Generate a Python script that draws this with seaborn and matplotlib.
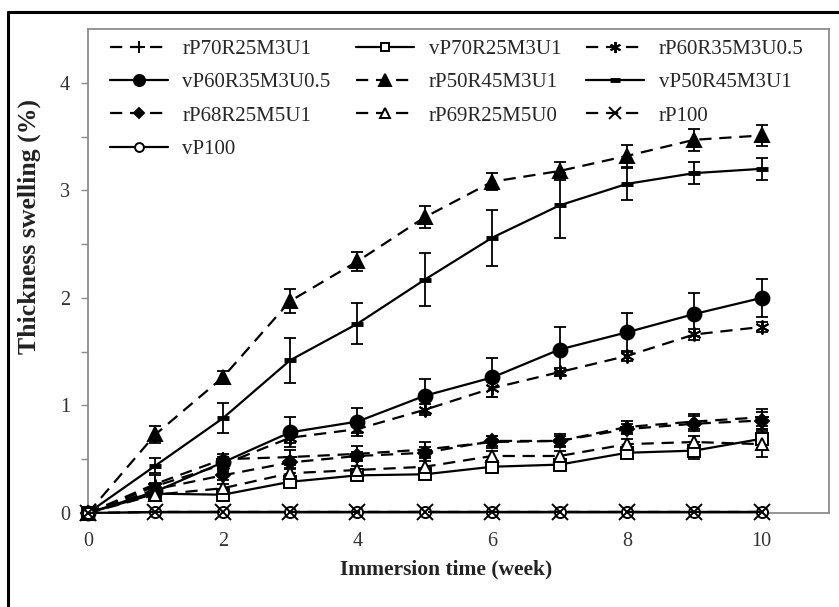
import numpy as np
import pandas as pd
import matplotlib
matplotlib.use('Agg')
import matplotlib.pyplot as plt
import seaborn as sns
from matplotlib.lines import Line2D

# data
weeks = [0, 1, 2, 3, 4, 5, 6, 7, 8, 9, 10]

rP70R25M3U1 = [0, 0.27, 0.50, 0.52, 0.55, 0.59, 0.66, 0.67, 0.80, 0.85, 0.89]
rP70R25M3U1_err = [0, 0.08, 0.05, 0.07, 0.07, 0.07, 0.06, 0.06, 0.06, 0.07, 0.08]

vP70R25M3U1 = [0, 0.18, 0.17, 0.29, 0.35, 0.36, 0.43, 0.45, 0.56, 0.58, 0.69]
vP70R25M3U1_err = [0, 0.03, 0.03, 0.05, 0.03, 0.03, 0.04, 0.04, 0.04, 0.08, 0.09]

rP60R35M3U05 = [0, 0.25, 0.45, 0.70, 0.78, 0.96, 1.16, 1.31, 1.46, 1.66, 1.73]
rP60R35M3U05_err = [0, 0.03, 0.04, 0.05, 0.04, 0.05, 0.08, 0.04, 0.05, 0.05, 0.05]

vP60R35M3U05 = [0, 0.20, 0.47, 0.75, 0.85, 1.09, 1.26, 1.52, 1.68, 1.85, 2.00]
vP60R35M3U05_err = [0, 0.04, 0.05, 0.14, 0.13, 0.16, 0.18, 0.21, 0.18, 0.20, 0.18]

rP50R45M3U1 = [0, 0.73, 1.26, 1.97, 2.34, 2.75, 3.08, 3.18, 3.32, 3.47, 3.51]
rP50R45M3U1_err = [0, 0.08, 0.06, 0.11, 0.09, 0.10, 0.08, 0.08, 0.10, 0.10, 0.10]

vP50R45M3U1 = [0, 0.44, 0.88, 1.42, 1.76, 2.17, 2.56, 2.86, 3.06, 3.16, 3.20]
vP50R45M3U1_err = [0, 0.07, 0.14, 0.21, 0.19, 0.25, 0.26, 0.30, 0.15, 0.10, 0.10]

rP68R25M5U1 = [0, 0.22, 0.35, 0.47, 0.53, 0.56, 0.67, 0.67, 0.78, 0.83, 0.86]
rP68R25M5U1_err = [0, 0.03, 0.04, 0.05, 0.04, 0.05, 0.05, 0.05, 0.05, 0.07, 0.08]

rP69R25M5U0 = [0, 0.17, 0.23, 0.37, 0.40, 0.43, 0.53, 0.53, 0.64, 0.66, 0.64]
rP69R25M5U0_err = [0, 0.03, 0.04, 0.04, 0.04, 0.05, 0.05, 0.05, 0.05, 0.06, 0.12]

rP100 = [0, 0.01, 0.01, 0.01, 0.01, 0.01, 0.01, 0.01, 0.01, 0.01, 0.01]
vP100 = [0, 0.01, 0.01, 0.01, 0.01, 0.01, 0.01, 0.01, 0.01, 0.01, 0.01]
zero_err = [0] * 11

DASH = (0, (5.5, 3.5))

# name, values, errors, linestyle, marker, marker size, face colour, zorder
series = [
    ('rP70R25M3U1', rP70R25M3U1, rP70R25M3U1_err, DASH, '+', 10, 'black', 3),
    ('vP70R25M3U1', vP70R25M3U1, vP70R25M3U1_err, '-', 's', 8, 'white', 3),
    ('rP60R35M3U0.5', rP60R35M3U05, rP60R35M3U05_err, DASH, (6, 2, 0), 10, 'black', 3),
    ('vP60R35M3U0.5', vP60R35M3U05, vP60R35M3U05_err, '-', 'o', 10, 'black', 3),
    ('rP50R45M3U1', rP50R45M3U1, rP50R45M3U1_err, DASH, '^', 10, 'black', 3),
    ('vP50R45M3U1', vP50R45M3U1, vP50R45M3U1_err, '-', '_', 9, 'black', 3),
    ('rP68R25M5U1', rP68R25M5U1, rP68R25M5U1_err, DASH, 'D', 7, 'black', 3),
    ('rP69R25M5U0', rP69R25M5U0, rP69R25M5U0_err, DASH, '^', 9, 'white', 3),
    ('rP100', rP100, zero_err, DASH, 'x', 11, 'black', 3.2),
    ('vP100', vP100, zero_err, '-', 'o', 8, 'white', 3.1),
]

sns.set_style('white')
plt.rcParams['font.family'] = ['Liberation Serif', 'DejaVu Serif']

fig = plt.figure(figsize=(8.39, 6.07), dpi=100)
ax = fig.add_axes([88 / 839, 1 - 513 / 607, 741 / 839, 484 / 607])

for name, vals, errs, ls, mk, ms, fc, z in series:
    ax.errorbar(weeks, vals, yerr=errs, fmt='none', ecolor='black',
                elinewidth=1.3, capsize=4.2, capthick=1.3, zorder=2)
    mew = 3.5 if mk == '_' else 1.4
    sns.lineplot(x=weeks, y=vals, ax=ax, color='black', linewidth=1.6,
                 linestyle=ls, marker=mk, markersize=ms, markerfacecolor=fc,
                 markeredgecolor='black', markeredgewidth=mew, label=name,
                 zorder=z, clip_on=False)

ax.set_xlim(0, 11)
ax.set_ylim(0, 4.5)
ax.set_xticks([0, 2, 4, 6, 8, 10])
ax.set_yticks([0, 1, 2, 3, 4])
ax.set_yticks([0.5, 1.5, 2.5, 3.5], minor=True)
ax.tick_params(axis='x', length=0, pad=14, labelsize=14.5, labelcolor='#333333')
ax.tick_params(axis='y', which='both', left=True, length=5, width=1,
               color='#8c8c8c', direction='out', pad=8, labelsize=14.5,
               labelcolor='#333333')
for sp in ax.spines.values():
    sp.set_color('#8c8c8c')
    sp.set_linewidth(1.3)
    sp.set_zorder(1)

ax.set_xlabel('')
ax.set_ylabel('')
fig.text(446 / 839, 1 - 569 / 607, 'Immersion time (week)', ha='center',
         va='center', fontsize=15.5, fontweight='bold', color='#222222')
fig.text(29 / 839, 1 - 227 / 607, 'Thickness swelling (%)', ha='center',
         va='center', rotation=90, fontsize=18.5, fontweight='bold',
         color='#222222')

# legend, rows filled left to right as in the reference
handles, labels = ax.get_legend_handles_labels()
lookup = dict(zip(labels, handles))
order = ['rP70R25M3U1', 'vP60R35M3U0.5', 'rP68R25M5U1', 'vP100',
         'vP70R25M3U1', 'rP50R45M3U1', 'rP69R25M5U0',
         'rP60R35M3U0.5', 'vP50R45M3U1', 'rP100']
leg = ax.legend([lookup[k] for k in order], order, ncol=3, loc='upper left',
                bbox_to_anchor=(0.015, 1.0), frameon=False, fontsize=15,
                handlelength=2.8, handletextpad=0.7, columnspacing=1.2,
                labelspacing=0.66, markerscale=0.8, borderaxespad=0.1)

# black frame on the top and left of the figure
fig.add_artist(Line2D([8 / 839, 1], [1 - 12 / 607, 1 - 12 / 607],
                      transform=fig.transFigure, color='black', lw=2.2))
fig.add_artist(Line2D([8 / 839, 8 / 839], [0, 1 - 12 / 607],
                      transform=fig.transFigure, color='black', lw=2.2))

fig.savefig('out.png', dpi=100)
